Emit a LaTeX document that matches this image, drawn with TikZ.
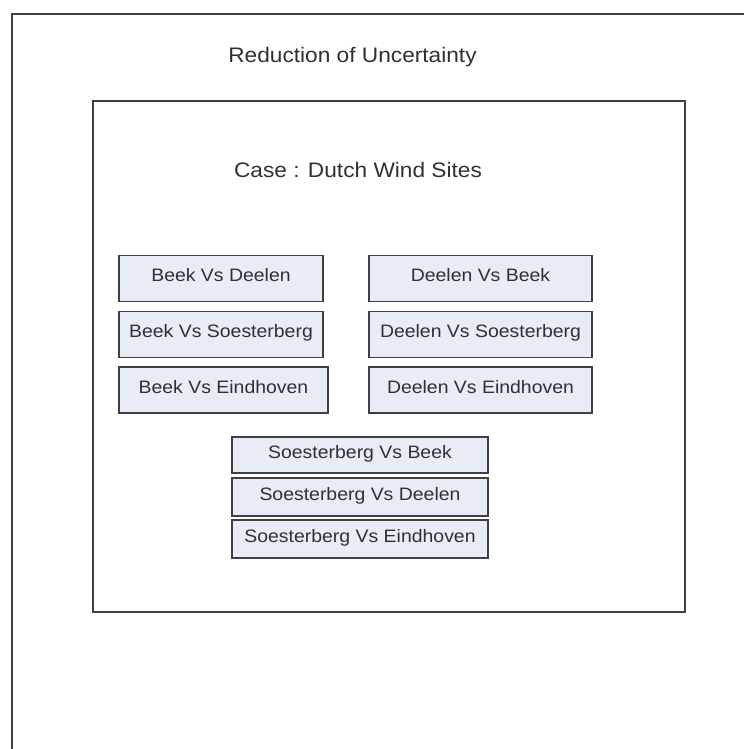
\documentclass[tikz,border=0pt]{standalone}
\usepackage{fontspec}
\setmainfont{Liberation Sans}[FakeStretch=1.08]
\usepackage[usenames,dvipsnames]{xcolor}
\definecolor{framegrey}{HTML}{404040}
\definecolor{boxfill}{HTML}{E8ECF6}
\definecolor{textgrey}{HTML}{303030}

\begin{document}
\begin{tikzpicture}[x=1pt,y=-1pt]
            \useasboundingbox (0,0) rectangle (744,749);

            % outer frame, open to the right and bottom
            \coordinate (ob) at (12,749);
            \coordinate (oc) at (12,14);
            \coordinate (or) at (744,14);
            \draw [framegrey,line width=2pt] (ob) -- (oc) -- (or);

            % inner frame
            \node (case) [draw=framegrey,line width=1.6pt,minimum width=592pt,minimum height=511pt,inner sep=0pt] at (389,356.5) {};

            \begin{scope}[every node/.style={textgrey,font=\fontsize{21}{24}\selectfont,anchor=base}]
                \node (title) at (352.5,63) {Reduction of Uncertainty};
                \node (sites) at (358,177) {Case : Dutch Wind Sites};
            \end{scope}

            \begin{scope}[every node/.style={draw=framegrey,fill=boxfill,line width=1.6pt,
                          text=textgrey,font=\fontsize{18}{20}\selectfont,
                          text height=0.72em,text depth=0.08em,inner sep=0pt}]
                \node (bd) [minimum width=204pt,minimum height=46pt] at (221,278.5) {Beek Vs Deelen};
                \node (bs) [minimum width=204pt,minimum height=46pt] at (221,334.5) {Beek Vs Soesterberg};
                \node (be) [minimum width=209pt,minimum height=46pt] at (223.5,390) {Beek Vs Eindhoven};

                \node (db) [minimum width=223pt,minimum height=46pt] at (480.5,278.5) {Deelen Vs Beek};
                \node (ds) [minimum width=223pt,minimum height=46pt] at (480.5,334.5) {Deelen Vs Soesterberg};
                \node (de) [minimum width=223pt,minimum height=46pt] at (480.5,390) {Deelen Vs Eindhoven};

                \node (sb) [minimum width=256pt,minimum height=36pt] at (360,455) {Soesterberg Vs Beek};
                \node (sd) [minimum width=256pt,minimum height=38pt] at (360,497) {Soesterberg Vs Deelen};
                \node (se) [minimum width=256pt,minimum height=38pt] at (360,539) {Soesterberg Vs Eindhoven};
            \end{scope}
            \end{tikzpicture}
\end{document}
